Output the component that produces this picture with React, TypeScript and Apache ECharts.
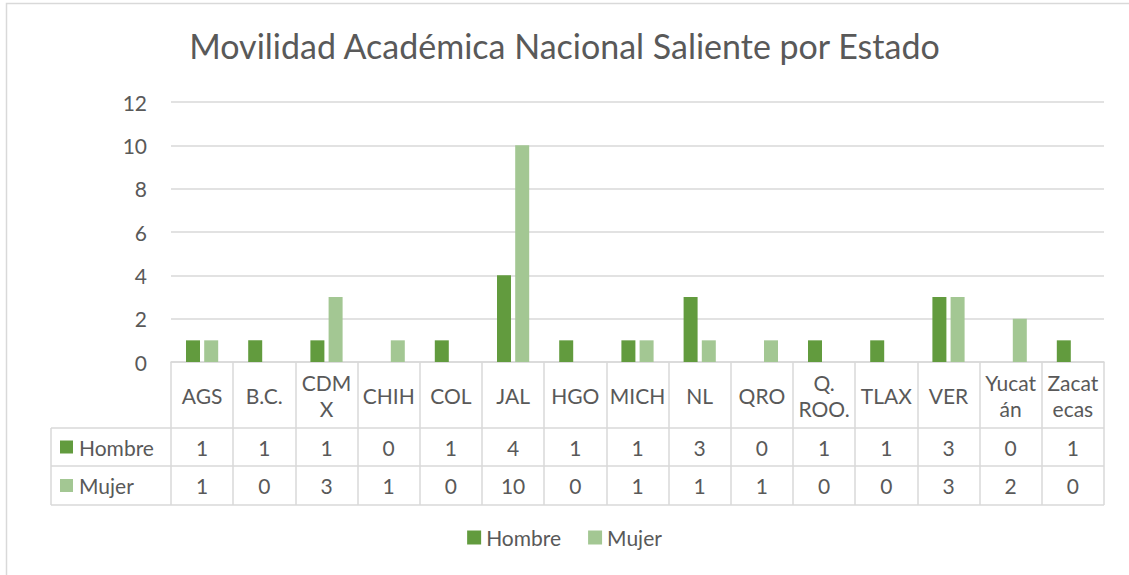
import React, { useEffect, useRef } from "react";
import * as echarts from "echarts";

const categories = ["AGS", "B.C.", "CDM\nX", "CHIH", "COL", "JAL", "HGO", "MICH", "NL", "QRO", "Q.\nROO.", "TLAX", "VER", "Yucat\nán", "Zacat\necas"];
const hombre = [1, 1, 1, 0, 1, 4, 1, 1, 3, 0, 1, 1, 3, 0, 1];
const mujer = [1, 0, 3, 1, 0, 10, 0, 1, 1, 1, 0, 0, 3, 2, 0];
const seriesNames = ["Hombre", "Mujer"];
const yTicks = { min: 0, max: 12, interval: 2 };

const COLORS = ["#629B3E", "#A3C793"];
const TXT = "#595959";
const LINE = "#D9D9D9";
const FONT = "Lato, sans-serif";
const FS = 21;

const W = 1129, H = 575;
const GL = 171, GR = 1104, GT = 102, GB = 362;
const ROW1 = 428, ROW2 = 466, ROW3 = 505, LABX = 51;

export default function App() {
  const ref = useRef<HTMLDivElement>(null);
  useEffect(() => {
    const chart = echarts.init(ref.current!, null, { renderer: "svg" });
    const colW = (GR - GL) / categories.length;
    const graphics: any[] = [];
    graphics.push({ type: "rect", shape: { x: 6.5, y: 3.5, width: 1140, height: 600 }, style: { fill: "none", stroke: LINE, lineWidth: 1.5 }, silent: true });
    [ROW1, ROW2, ROW3].forEach((y) => {
      graphics.push({ type: "line", shape: { x1: LABX, y1: y, x2: GR, y2: y }, style: { stroke: LINE, lineWidth: 1.5 } });
    });
    graphics.push({ type: "line", shape: { x1: LABX, y1: ROW1, x2: LABX, y2: ROW3 }, style: { stroke: LINE, lineWidth: 1.5 } });
    const rows = [hombre, mujer];
    const rowY = [(ROW1 + ROW2) / 2, (ROW2 + ROW3) / 2];
    rows.forEach((vals, r) => {
      graphics.push({ type: "rect", shape: { x: 60, y: rowY[r] - 6.5, width: 13, height: 13 }, style: { fill: COLORS[r] } });
      graphics.push({ type: "text", x: 79, y: rowY[r], style: { text: seriesNames[r], fill: TXT, font: `${FS}px ${FONT}`, verticalAlign: "middle", align: "left" } });
      vals.forEach((v, i) => {
        graphics.push({ type: "text", x: GL + colW * (i + 0.5), y: rowY[r], style: { text: String(v), fill: TXT, font: `${FS}px ${FONT}`, verticalAlign: "middle", align: "center" } });
      });
    });
    chart.setOption({
      animation: false,
      title: {
        text: "Movilidad Académica Nacional Saliente por Estado",
        left: "center",
        top: 23,
        textStyle: { color: TXT, fontSize: 34, fontWeight: "normal", fontFamily: FONT },
      },
      legend: {
        data: seriesNames,
        bottom: 22,
        left: "center",
        itemWidth: 14,
        itemHeight: 14,
        itemGap: 27,
        icon: "rect",
        textStyle: { color: TXT, fontSize: FS, fontFamily: FONT },
      },
      grid: { left: GL, right: W - GR, top: GT, bottom: H - GB, containLabel: false },
      xAxis: {
        type: "category",
        data: categories,
        axisLine: { lineStyle: { color: LINE, width: 1.5 } },
        axisTick: { show: true, length: ROW3 - GB, lineStyle: { color: LINE, width: 1.5 } },
        axisLabel: { interval: 0, color: TXT, fontSize: FS, fontFamily: FONT, lineHeight: 26, margin: 33, verticalAlign: "middle" },
      },
      yAxis: {
        type: "value",
        min: yTicks.min,
        max: yTicks.max,
        interval: yTicks.interval,
        axisLine: { show: false },
        axisTick: { show: false },
        splitLine: { lineStyle: { color: LINE, width: 1.5 } },
        axisLabel: { color: TXT, fontSize: FS, fontFamily: FONT, margin: 24 },
      },
      series: [
        { name: seriesNames[0], type: "bar", data: hombre, barWidth: 14, barGap: "30%", itemStyle: { color: COLORS[0] } },
        { name: seriesNames[1], type: "bar", data: mujer, barWidth: 14, barGap: "30%", itemStyle: { color: COLORS[1] } },
      ],
      graphic: graphics,
    });
    return () => chart.dispose();
  }, []);
  return <div ref={ref} style={{ position: "fixed", left: 0, top: 0, width: W, height: H, background: "#fff" }} />;
}
